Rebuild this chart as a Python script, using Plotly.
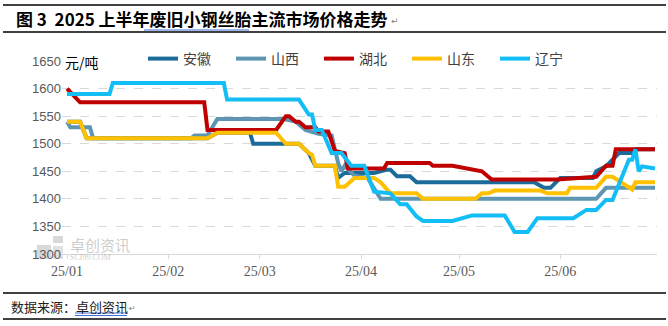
import plotly.graph_objects as go

# ---------------- data ----------------
anhui_dates = ["2025-01-01","2025-01-05","2025-01-07","2025-02-13","2025-02-16","2025-02-26","2025-02-27",
               "2025-03-13","2025-03-16","2025-03-18","2025-03-24","2025-03-25","2025-03-27","2025-04-05",
               "2025-04-09","2025-04-10","2025-04-12","2025-04-16","2025-04-18","2025-05-24","2025-05-27",
               "2025-05-29","2025-06-01","2025-06-11","2025-06-12","2025-06-15","2025-06-19","2025-06-23",
               "2025-06-24","2025-06-30"]
anhui_vals = [1540,1540,1510,1510,1520,1520,1500,
              1500,1483,1460,1460,1438,1447,1447,
              1453,1453,1441,1441,1430,1430,1420,
              1420,1438,1438,1450,1459,1483,1483,
              1490,1490]

shanxi_dates = ["2025-01-01","2025-01-02","2025-01-08","2025-01-09","2025-02-08","2025-02-09","2025-02-13",
                "2025-02-16","2025-03-08","2025-03-12","2025-03-15","2025-03-19","2025-03-23","2025-03-25",
                "2025-03-26","2025-03-27","2025-03-30","2025-04-03","2025-04-07","2025-06-12","2025-06-15",
                "2025-06-30"]
shanxi_vals = [1540,1530,1530,1510,1510,1515,1515,
               1545,1545,1540,1525,1518,1515,1465,
               1450,1460,1442,1438,1400,1400,1420,
               1420]

hubei_dates = ["2025-01-01","2025-01-05","2025-02-12","2025-02-13","2025-03-06","2025-03-09","2025-03-10",
               "2025-03-12","2025-03-13","2025-03-15","2025-03-18","2025-03-19","2025-03-22","2025-03-24",
               "2025-03-27","2025-03-28","2025-04-08","2025-04-09","2025-04-22","2025-04-23","2025-04-29",
               "2025-05-04","2025-05-08","2025-05-11","2025-05-31","2025-06-12","2025-06-15","2025-06-17",
               "2025-06-18","2025-06-30"]
hubei_vals = [1600,1575,1575,1525,1525,1550,1550,
              1540,1540,1530,1530,1522,1522,1487,
              1483,1455,1455,1465,1465,1460,1460,
              1455,1450,1435,1435,1440,1460,1460,
              1490,1490]

shandong_dates = ["2025-01-01","2025-01-05","2025-01-07","2025-02-13","2025-02-16","2025-03-06","2025-03-09",
                  "2025-03-13","2025-03-16","2025-03-17","2025-03-18","2025-03-24","2025-03-25","2025-03-27",
                  "2025-03-30","2025-04-05","2025-04-07","2025-04-09","2025-04-10","2025-04-18","2025-04-20",
                  "2025-05-06","2025-05-08","2025-05-10","2025-05-12","2025-05-26","2025-05-28","2025-06-03",
                  "2025-06-04","2025-06-12","2025-06-15","2025-06-17","2025-06-21","2025-06-23","2025-06-24",
                  "2025-06-30"]
shandong_vals = [1540,1540,1510,1510,1520,1520,1500,
                 1500,1483,1480,1460,1460,1422,1422,
                 1438,1438,1430,1416,1410,1410,1400,
                 1400,1410,1410,1415,1415,1410,1410,
                 1420,1420,1440,1440,1425,1417,1430,
                 1430]

liaoning_dates = ["2025-01-01","2025-01-14","2025-01-15","2025-02-18","2025-02-19","2025-03-13","2025-03-16",
                  "2025-03-17","2025-03-18","2025-03-20","2025-03-23","2025-03-26","2025-03-29","2025-04-02",
                  "2025-04-05","2025-04-10","2025-04-13","2025-04-15","2025-04-18","2025-04-20","2025-04-29",
                  "2025-05-03","2025-05-05","2025-05-15","2025-05-18","2025-05-22","2025-05-25","2025-06-05",
                  "2025-06-09","2025-06-12","2025-06-15","2025-06-17","2025-06-20","2025-06-22","2025-06-23",
                  "2025-06-24","2025-06-25","2025-06-26","2025-06-30"]
liaoning_vals = [1590,1590,1610,1610,1580,1580,1553,
                 1553,1525,1525,1483,1483,1460,1460,
                 1413,1410,1390,1390,1368,1360,1360,
                 1367,1370,1370,1340,1340,1365,1365,
                 1380,1380,1398,1398,1442,1471,1471,
                 1490,1450,1459,1455]

series_names = ["安徽", "山西", "湖北", "山东", "辽宁"]
series_colors = ["#1B6C9A", "#5E95B2", "#C00000", "#FFC000", "#12BEF5"]
series_dates = [anhui_dates, shanxi_dates, hubei_dates, shandong_dates, liaoning_dates]
series_vals = [anhui_vals, shanxi_vals, hubei_vals, shandong_vals, liaoning_vals]

tick_dates = ["2025-01-01", "2025-02-01", "2025-03-01", "2025-04-01", "2025-05-01", "2025-06-01"]
tick_labels = ["25/01", "25/02", "25/03", "25/04", "25/05", "25/06"]

# ---------------- layout geometry ----------------
WIDTH, HEIGHT = 668, 326
L, R, T, B = 62, 11, 61, 72
PW = WIDTH - L - R
PH = HEIGHT - T - B


def px(x):
    return (x - L) / PW


def py(y):
    return (HEIGHT - B - y) / PH


fig = go.Figure()
for name, color, d, v in zip(series_names, series_colors, series_dates, series_vals):
    fig.add_trace(go.Scatter(x=d, y=v, mode="lines", name=name,
                             line=dict(color=color, width=4)))

annotations = [
    dict(text="<b>图 3  2025 上半年废旧小钢丝胎主流市场价格走势</b>", x=px(14), y=py(19),
         xref="paper", yref="paper", xanchor="left", yanchor="middle", showarrow=False,
         font=dict(family="Noto Sans CJK SC", size=17, color="#000000")),
    dict(text="↵", x=px(389), y=py(21), xref="paper", yref="paper", xanchor="left",
         yanchor="middle", showarrow=False, font=dict(family="DejaVu Sans", size=9, color="#808080")),
    dict(text="元/吨", x=px(63), y=py(62), xref="paper", yref="paper", xanchor="left",
         yanchor="middle", showarrow=False, font=dict(family="Noto Sans CJK SC", size=14, color="#000000")),
    dict(text="数据来源：卓创资讯", x=px(9), y=py(306), xref="paper", yref="paper", xanchor="left",
         yanchor="middle", showarrow=False, font=dict(family="Noto Sans CJK SC", size=13, color="#202020")),
    dict(text="↵", x=px(127), y=py(308), xref="paper", yref="paper", xanchor="left",
         yanchor="middle", showarrow=False, font=dict(family="DejaVu Sans", size=8, color="#808080")),
    dict(text="卓创资讯", x=px(68), y=py(244), xref="paper", yref="paper", xanchor="left",
         yanchor="middle", showarrow=False, font=dict(family="Noto Sans CJK SC", size=15, color="rgba(170,170,170,0.6)")),
    dict(text="SCI99.COM", x=px(68), y=py(257), xref="paper", yref="paper", xanchor="left",
         yanchor="middle", showarrow=False, font=dict(family="Liberation Serif", size=8, color="rgba(170,170,170,0.6)")),
]

shapes = [
    dict(type="line", xref="paper", yref="paper", x0=px(3), x1=px(666), y0=py(5), y1=py(5),
         line=dict(color="#000000", width=1.5)),
    dict(type="line", xref="paper", yref="paper", x0=px(3), x1=px(666), y0=py(32), y1=py(32),
         line=dict(color="#000000", width=1.5)),
    dict(type="line", xref="paper", yref="paper", x0=px(144), x1=px(249), y0=py(30), y1=py(30),
         line=dict(color="#3A6FD8", width=1)),
    dict(type="line", xref="paper", yref="paper", x0=px(3), x1=px(666), y0=py(293), y1=py(293),
         line=dict(color="#000000", width=1.5)),
    dict(type="line", xref="paper", yref="paper", x0=px(3), x1=px(666), y0=py(319), y1=py(319),
         line=dict(color="#000000", width=1.5)),
    dict(type="line", xref="paper", yref="paper", x0=px(75), x1=px(127), y0=py(313), y1=py(313),
         line=dict(color="#3A6FD8", width=1)),
    dict(type="line", xref="paper", yref="paper", x0=px(75), x1=px(127), y0=py(315.5), y1=py(315.5),
         line=dict(color="#3A6FD8", width=1)),
    dict(type="rect", xref="paper", yref="paper", x0=px(37), x1=px(51), y0=py(259), y1=py(245),
         fillcolor="rgba(170,170,170,0.45)", line=dict(width=0), layer="below"),
    dict(type="rect", xref="paper", yref="paper", x0=px(53), x1=px(63), y0=py(243), y1=py(236),
         fillcolor="rgba(170,170,170,0.45)", line=dict(width=0), layer="below"),
    dict(type="rect", xref="paper", yref="paper", x0=px(53), x1=px(63), y0=py(259), y1=py(246),
         fillcolor="rgba(170,170,170,0.35)", line=dict(width=0), layer="below"),
]

fig.update_layout(
    width=WIDTH, height=HEIGHT,
    margin=dict(l=L, r=R, t=T, b=B, pad=0, autoexpand=False),
    paper_bgcolor="#FFFFFF", plot_bgcolor="#FFFFFF",
    showlegend=True,
    legend=dict(orientation="h", xref="paper", yref="paper",
                x=px(143), y=py(59), xanchor="left", yanchor="middle",
                entrywidth=43, entrywidthmode="pixels",
                font=dict(family="Noto Sans CJK SC", size=14, color="#404040"),
                bgcolor="rgba(0,0,0,0)", tracegroupgap=0),
    xaxis=dict(type="date", range=["2024-12-30 11:00", "2025-06-30 14:40"],
               tickvals=tick_dates, ticktext=tick_labels,
               showgrid=False, showline=True, linecolor="#D9D9D9", linewidth=1,
               ticks="outside", ticklen=4, tickcolor="#D9D9D9",
               tickfont=dict(family="Liberation Serif", size=14, color="#595959")),
    yaxis=dict(range=[1300, 1650], dtick=50, tick0=1300,
               showgrid=True, gridcolor="#D9D9D9", griddash="dash", gridwidth=1,
               zeroline=False, showline=False, ticks="",
               tickfont=dict(family="Liberation Sans", size=13, color="#595959")),
    annotations=annotations,
    shapes=shapes,
)

fig.write_html("out.html")
